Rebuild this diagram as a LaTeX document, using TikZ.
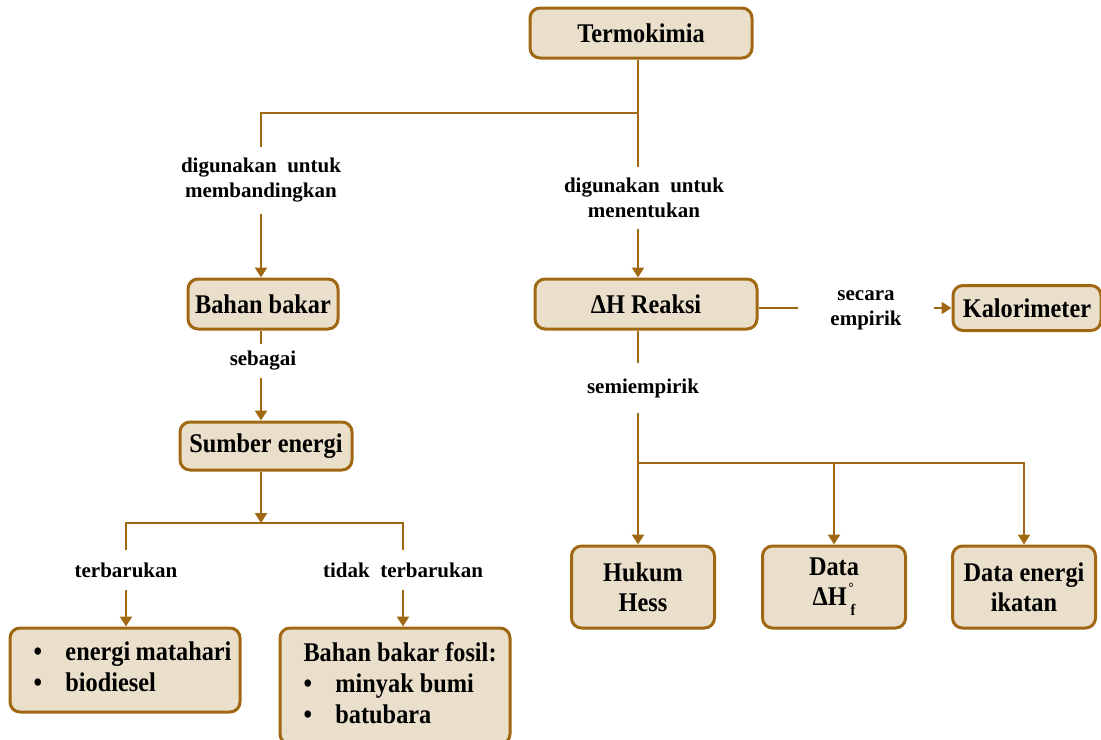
\documentclass[tikz,border=0pt]{standalone}
\usepackage{fontspec}
\usepackage{array}
\setmainfont{Liberation Serif}
\newfontfamily\boxfont{Liberation Serif}[FakeStretch=0.9]
\usetikzlibrary{arrows.meta,positioning}
\definecolor{kmline}{RGB}{160,104,18}
\definecolor{kmfill}{RGB}{234,223,203}
\newcolumntype{B}{@{\hspace{7.5pt}}p{16pt}@{}}
\newcolumntype{T}{@{}p{83pt}@{}}
\tikzset{
  kotak/.style={draw=kmline, fill=kmfill, line width=1.5pt, rounded corners=5pt,
    font=\boxfont\bfseries\fontsize{13.5}{15}\selectfont, align=center, inner sep=0pt},
  daftar/.style={kotak, minimum width=115pt, font=\boxfont\bfseries\fontsize{13.5}{15.5}\selectfont},
  ket/.style={font=\bfseries\fontsize{10.5}{12.5}\selectfont, align=center, inner xsep=2pt, inner ysep=5.5pt},
  garis/.style={draw=kmline, line width=1.2pt},
  panah/.style={garis, -{Triangle[width=6pt,length=5pt]}},
}
\begin{document}
\begin{tikzpicture}[x=0.5pt,y=-0.5pt]
\useasboundingbox (0,0) rectangle (1101,739);
% kotak-kotak
\node[kotak, minimum width=111pt, minimum height=25pt] (termo) at (641,33) {Termokimia};
\node[kotak, minimum width=75pt, minimum height=25pt] (bahan) at (263,304) {Bahan bakar};
\node[kotak, minimum width=86pt, minimum height=24pt] (sumber) at (266,446) {Sumber energi};
\node[kotak, minimum width=111pt, minimum height=25pt] (reaksi) at (646,304) {ΔH Reaksi};
\node[kotak, minimum width=74pt, minimum height=22.5pt] (kalor) at (1027,308) {Kalorimeter};
\node[kotak, minimum width=71.5pt, minimum height=41pt] (hess) at (643,587) {Hukum\\Hess};
\node[kotak, minimum width=71.5pt, minimum height=41pt] (dataf) at (834,587)
  {Data\\ΔH\rlap{\hspace{1pt}\raisebox{1.1ex}{\fontsize{7}{7}\selectfont°}}\hspace{2pt}\raisebox{-0.8ex}{\fontsize{8}{8}\selectfont f}};
\node[kotak, minimum width=71.5pt, minimum height=41pt] (ikatan) at (1024,587) {Data energi\\ikatan};
\node[daftar, minimum height=42pt] (terbaru) at (125,670)
  {\begin{tabular}{BT}• & energi matahari\\ • & biodiesel\end{tabular}};
\node[daftar, minimum height=58pt] (fosil) at (395,686)
  {\begin{tabular}{BT}\multicolumn{2}{@{\hspace{7.5pt}}p{99pt}@{}}{Bahan bakar fosil:}\\
    • & minyak bumi\\ • & batubara\end{tabular}};
% keterangan
\node[ket] (lblA) at (261,180) {digunakan~ untuk\\membandingkan};
\node[ket] (lblB) at (644,198) {digunakan~ untuk\\menentukan};
\node[ket, inner ysep=3.5pt] (lblS) at (263,361) {sebagai};
\node[ket, inner ysep=7.5pt] (lblD) at (643,388) {semiempirik};
\node[ket, inner xsep=16pt] (lblE) at (866,310) {secara\\empirik};
\node[ket, inner ysep=6pt] (lblT) at (126,570) {terbarukan};
\node[ket, inner ysep=6pt] (lblN) at (403,570) {tidak~ terbarukan};
% garis
\coordinate (jT) at (638,113);
\coordinate (jL) at (261,113);
\coordinate (jS) at (261,523);
\coordinate (jD) at (638,463);
\draw[garis] (termo.south -| jT) -- (jT) -- (jL) -- (lblA.north -| jL);
\draw[panah] (lblA.south -| jL) -- (bahan.north -| jL);
\draw[garis] (jT) -- (lblB.north -| jT);
\draw[panah] (lblB.south -| jT) -- (reaksi.north -| jT);
\draw[garis] (bahan.south -| jL) -- (lblS.north -| jL);
\draw[panah] (lblS.south -| jL) -- (sumber.north -| jL);
\draw[panah] (sumber.south -| jS) -- (jS);
\draw[garis] (lblT.north) |- (jS) -| (lblN.north);
\draw[panah] (lblT.south) -- (terbaru.north -| lblT);
\draw[panah] (lblN.south) -- (fosil.north -| lblN);
\draw[garis] (reaksi.east |- kalor.west) -- (lblE.west |- kalor.west);
\draw[panah] (lblE.east |- kalor.west) -- (kalor.west);
\draw[garis] (reaksi.south -| jD) -- (lblD.north -| jD);
\draw[garis] (lblD.south -| jD) -- (jD);
\draw[panah] (jD) -- (hess.north -| jD);
\draw[panah] (jD) -| (dataf.north);
\draw[panah] (jD) -| (ikatan.north);
\end{tikzpicture}
\end{document}
